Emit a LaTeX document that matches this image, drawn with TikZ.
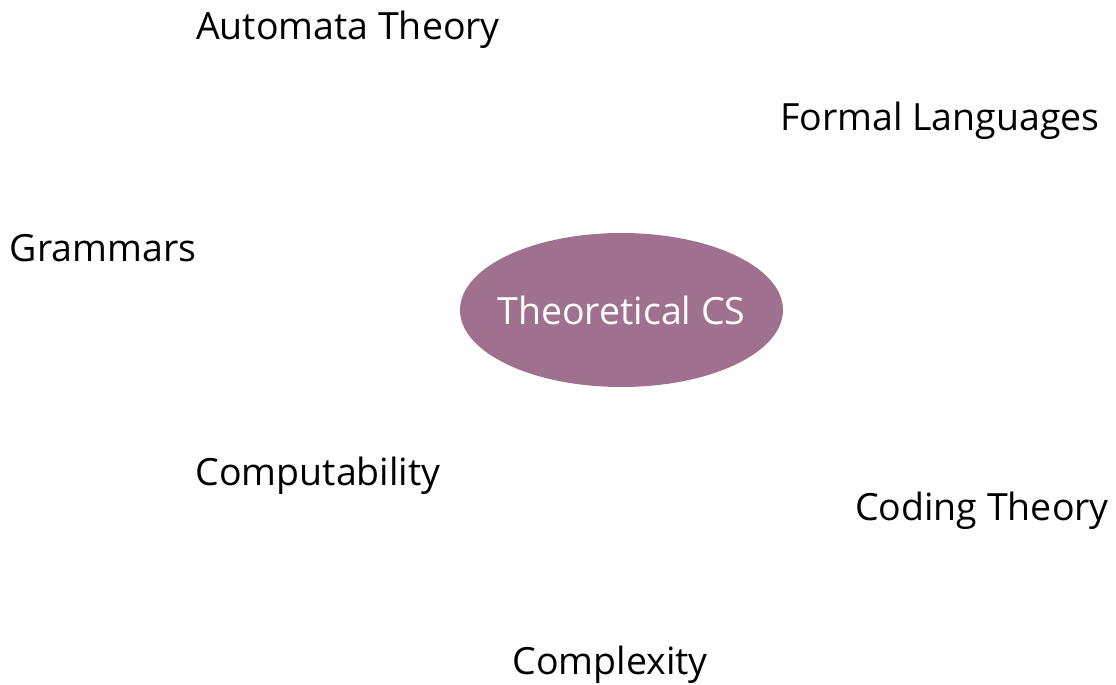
\documentclass[tikz,border=0pt]{standalone}
\usepackage{fontspec}
\setmainfont{Open Sans}
\usetikzlibrary{shapes.geometric}
\definecolor{hub}{HTML}{A0708F}
\tikzset{
  topicfont/.style={font=\fontsize{37.5}{44}\selectfont},
  topic/.style={topicfont, text=black, inner sep=0pt, anchor=base},
  centre/.style={ellipse, fill=hub, draw=none, minimum width=323pt, minimum height=154pt,
                 inner sep=0pt,
                 label={[topicfont, text=white, inner sep=0pt]center:Theoretical CS}}
}
\begin{document}
\begin{tikzpicture}[x=1pt,y=-1pt]
  \useasboundingbox (0,0) rectangle (1116,685);
  \node[centre] (hub) at (621.5,310) {};
  \node[topic] (auto) at (348,40) {Automata Theory};
  \node[topic] (formal) at (940,130) {Formal Languages};
  \node[topic] (gram) at (103,261) {Grammars};
  \node[topic] (comp) at (318,485) {Computability};
  \node[topic] (coding) at (982,520) {Coding Theory};
  \node[topic] (cplx) at (610,674) {Complexity};
\end{tikzpicture}
\end{document}
